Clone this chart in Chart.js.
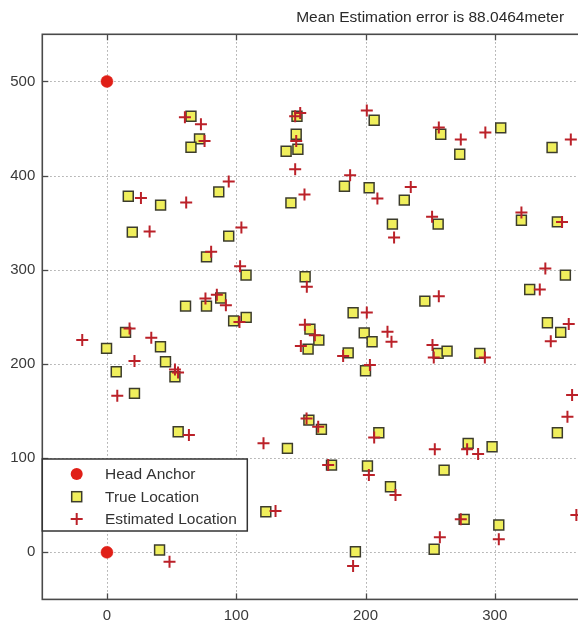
<!DOCTYPE html>
<html>
<head>
<meta charset="utf-8">
<script src="https://cdn.jsdelivr.net/npm/chart.js@4/dist/chart.umd.min.js"></script>
<style>
  html, body { margin: 0; padding: 0; background: #ffffff; overflow: hidden; }
  #wrap { width: 860px; height: 623px; }
</style>
</head>
<body>
<div id="wrap"><canvas id="c" width="860" height="623"></canvas></div>
<script>
// ---- data ----
const chartTitle = 'Mean Estimation error is 88.0464meter';
const legendLabels = ['Head Anchor', 'True Location', 'Estimated Location'];
const xTickValues = [0, 100, 200, 300, 400, 500];
const yTickValues = [0, 100, 200, 300, 400, 500];

const anchorX = [0, 0];
const anchorY = [500, 0];

const trueX = [65, 71.6, 65, 16.5, 41.5, 86.5, 19.6, 94.2, 77, 107.6,
  60.8, 77, 88, 98, 107.7, -0.3, 14.4, 41.4, 45.3, 52.6,
  7.2, 21.3, 55.1, 40.7, 139.6, 122.9, 147, 146.4, 147.7, 138.6,
  142.3, 153.3, 183.7, 206.7, 202.8, 230, 220.8, 256.2, 258.2, 272.9,
  304.6, 344.3, 320.6, 348.4, 245.9, 190.4, 354.6, 327, 157, 163.9,
  155.6, 186.6, 199, 205.1, 200, 256.2, 263.1, 288.4, 340.7, 351,
  348.4, 156.2, 165.9, 173.7, 201.5, 210.3, 219.3, 260.8, 279.4, 297.9,
  276.3, 303.1, 253.1, 192.2];
const trueY = [463, 439, 430, 378, 368.6, 382.7, 340, 335.7, 313.7, 294.3,
  261.4, 261.4, 270, 245.7, 249.4, 216.5, 233.5, 218.2, 202.3, 186.4,
  191.7, 168.7, 128, 2.4, 110.4, 43.1, 463, 443.9, 428, 425.9,
  371, 292.5, 388.7, 458.8, 387, 373.9, 348.4, 348.4, 443.9, 422.7,
  450.6, 429.8, 352.6, 350.8, 266.7, 254.3, 294.3, 279.1, 237, 225.3,
  215.7, 211.8, 233, 223.5, 192.7, 211.2, 213.6, 211.2, 243.7, 233.5,
  126.9, 140.4, 130.5, 92.6, 91.6, 126.9, 69.6, 87.3, 115.7, 112.1,
  35, 29, 3.2, 0.6];

const estX = [60.3, 72.7, 75.5, 26.3, 61.3, 94.2, 33, 104, 80.6, 103,
  76.2, 85, 92, 102.5, -19.1, 17.5, 34.3, 21.3, 52.6, 55,
  8, 63.4, 48.4, 121.1, 130.4, 145.6, 149.5, 146.4, 145.6, 152.8,
  154.6, 188.1, 201, 209.2, 235, 222.1, 251.5, 256.7, 273.7, 292.7,
  358.8, 320.6, 352, 256.7, 201, 339.1, 334.8, 153.1, 160.8, 150,
  182.7, 217, 220.1, 203.4, 251.8, 252.8, 292.3, 357.2, 343.3, 359.8,
  356.2, 363.1, 154.4, 163.4, 171.1, 202.6, 206.7, 223.2, 253.6, 278.6,
  287.1, 273.7, 303.1, 257.5, 190.4];
const estY = [462, 454.5, 436.8, 376.3, 371.4, 393.8, 340.6, 345, 319, 303.6,
  269.5, 273.5, 262.4, 244.5, 225.3, 237.7, 227.8, 203, 194.2, 191,
  166.2, 124.5, -10, 115.7, 43.8, 463, 466.5, 436.8, 406.8, 380,
  281.9, 400.4, 469, 375.7, 388, 334.3, 356.2, 451, 438.3, 445.7,
  438.3, 360.8, 350.8, 272, 254.7, 301.4, 279.1, 241.7, 230.4, 219,
  208.3, 234.1, 223.5, 198.8, 220, 206.9, 206.9, 242.3, 224.2, 166.9,
  143.9, 39.6, 142.2, 133.3, 92.6, 82, 122, 60.8, 109.3, 109.3,
  104.3, 35, 13.8, 15.9, -14.5];

// ---- styling ----
const FONT = '"Liberation Sans", Arial, Helvetica, sans-serif';
const ANCHOR_COLOR = '#e01f17';
const TRUE_FILL = '#f0ef5c';
const TRUE_EDGE = '#3c3c2c';
const EST_COLOR = '#bb2129';
const AXIS_COLOR = '#4a4a4a';
const GRID_COLOR = '#999999';
const TEXT_COLOR = '#2a2a2a';

const toPts = (xs, ys) => xs.map((x, i) => ({ x: x, y: ys[i] }));

const frame = {
  id: 'frame',
  beforeDatasetsDraw(chart) {
    const { ctx, chartArea: a, scales } = chart;
    ctx.save();
    ctx.strokeStyle = GRID_COLOR;
    ctx.lineWidth = 1;
    ctx.setLineDash([1.3, 2.7]);
    xTickValues.forEach(v => {
      const px = Math.round(scales.x.getPixelForValue(v)) + 0.5;
      ctx.beginPath(); ctx.moveTo(px, a.top); ctx.lineTo(px, a.bottom); ctx.stroke();
    });
    yTickValues.forEach(v => {
      const py = Math.round(scales.y.getPixelForValue(v)) + 0.5;
      ctx.beginPath(); ctx.moveTo(a.left, py); ctx.lineTo(a.right, py); ctx.stroke();
    });
    ctx.setLineDash([]);
    ctx.strokeStyle = AXIS_COLOR;
    ctx.lineWidth = 1.3;
    const tl = 6;
    xTickValues.forEach(v => {
      const px = Math.round(scales.x.getPixelForValue(v)) + 0.5;
      ctx.beginPath(); ctx.moveTo(px, a.bottom); ctx.lineTo(px, a.bottom - tl); ctx.stroke();
      ctx.beginPath(); ctx.moveTo(px, a.top); ctx.lineTo(px, a.top + tl); ctx.stroke();
    });
    yTickValues.forEach(v => {
      const py = Math.round(scales.y.getPixelForValue(v)) + 0.5;
      ctx.beginPath(); ctx.moveTo(a.left, py); ctx.lineTo(a.left + tl, py); ctx.stroke();
      ctx.beginPath(); ctx.moveTo(a.right, py); ctx.lineTo(a.right - tl, py); ctx.stroke();
    });
    ctx.lineWidth = 1.6;
    ctx.strokeRect(a.left, a.top, a.right - a.left, a.bottom - a.top);
    ctx.restore();
  },
  afterDraw(chart) {
    const { ctx, chartArea: a } = chart;
    ctx.save();
    // title, centred over the axes box
    ctx.fillStyle = TEXT_COLOR;
    ctx.font = '15.5px ' + FONT;
    ctx.textAlign = 'center';
    ctx.textBaseline = 'middle';
    ctx.fillText(chartTitle, (a.left + a.right) / 2, a.top - 17);
    // legend box
    const left = a.left, top = a.top + 424.7, w = 205, h = 72;
    ctx.fillStyle = '#ffffff';
    ctx.fillRect(left, top, w, h);
    ctx.strokeStyle = '#333333';
    ctx.lineWidth = 1.5;
    ctx.strokeRect(left, top, w, h);
    const mx = left + 34.4, tx = left + 62.7;
    const rows = [top + 15, top + 37.7, top + 60];
    ctx.fillStyle = ANCHOR_COLOR;
    ctx.beginPath(); ctx.arc(mx, rows[0], 6, 0, Math.PI * 2); ctx.fill();
    ctx.fillStyle = TRUE_FILL; ctx.strokeStyle = TRUE_EDGE; ctx.lineWidth = 1.5;
    ctx.fillRect(mx - 5, rows[1] - 5, 10, 10);
    ctx.strokeRect(mx - 5, rows[1] - 5, 10, 10);
    ctx.strokeStyle = EST_COLOR; ctx.lineWidth = 2;
    ctx.beginPath();
    ctx.moveTo(mx - 6, rows[2]); ctx.lineTo(mx + 6, rows[2]);
    ctx.moveTo(mx, rows[2] - 6); ctx.lineTo(mx, rows[2] + 6);
    ctx.stroke();
    ctx.fillStyle = '#333333';
    ctx.font = '15.5px ' + FONT;
    ctx.textBaseline = 'middle';
    ctx.textAlign = 'left';
    legendLabels.forEach((t, i) => ctx.fillText(t, tx, rows[i] + 1));
    ctx.restore();
  }
};

new Chart(document.getElementById('c'), {
  type: 'scatter',
  data: {
    datasets: [
      {
        label: legendLabels[2], data: toPts(estX, estY), order: 0,
        pointStyle: 'cross', pointRadius: 6, pointBorderWidth: 2,
        borderColor: EST_COLOR, backgroundColor: EST_COLOR
      },
      {
        label: legendLabels[1], data: toPts(trueX, trueY), order: 1,
        pointStyle: 'rect', pointRadius: 7, pointBorderWidth: 1.5,
        borderColor: TRUE_EDGE, backgroundColor: TRUE_FILL
      },
      {
        label: legendLabels[0], data: toPts(anchorX, anchorY), order: 2,
        pointStyle: 'circle', pointRadius: 6, pointBorderWidth: 0.5,
        borderColor: ANCHOR_COLOR, backgroundColor: ANCHOR_COLOR
      }
    ]
  },
  options: {
    responsive: false,
    animation: false,
    devicePixelRatio: 1,
    layout: { padding: { left: 0, right: 42, top: 34.3, bottom: 0 } },
    plugins: {
      legend: { display: false },
      tooltip: { enabled: false },
      title: { display: false }
    },
    scales: {
      x: {
        type: 'linear', min: -50, max: 550,
        afterBuildTicks: s => { s.ticks = xTickValues.map(v => ({ value: v })); },
        afterFit: s => { s.height = 23.6; },
        grid: { display: false, drawTicks: false }, border: { display: false },
        ticks: { color: '#3a3a3a', padding: 7, maxRotation: 0, autoSkip: false,
          font: { family: FONT, size: 15 } }
      },
      y: {
        type: 'linear', min: -50, max: 550,
        afterBuildTicks: s => { s.ticks = yTickValues.map(v => ({ value: v })); },
        afterFit: s => { s.width = 42.3; },
        grid: { display: false, drawTicks: false }, border: { display: false },
        ticks: { color: '#3a3a3a', padding: 7, autoSkip: false,
          font: { family: FONT, size: 15 } }
      }
    }
  },
  plugins: [frame]
});
</script>
</body>
</html>
